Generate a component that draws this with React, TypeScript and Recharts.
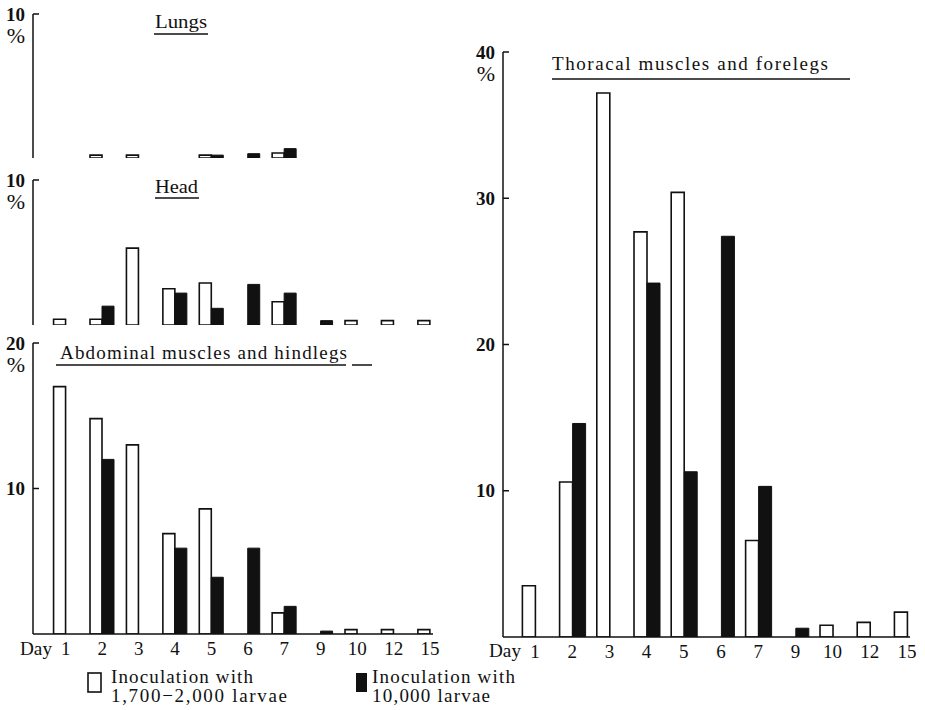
import React from 'react';
import { BarChart, Bar, XAxis, YAxis } from 'recharts';

const days = ['1', '2', '3', '4', '5', '6', '7', '9', '10', '12', '15'];

const lungsLow = [null, 0.2, 0.2, null, 0.2, null, 0.35, null, null, null, null];
const lungsHigh = [null, null, null, null, 0.2, 0.3, 0.65, null, null, null, null];

const headLow = [0.4, 0.4, 5.3, 2.5, 2.9, null, 1.6, null, 0.3, 0.3, 0.3];
const headHigh = [null, 1.3, null, 2.2, 1.15, 2.8, 2.2, 0.3, null, null, null];

const abdLow = [17.0, 14.8, 13.0, 6.9, 8.6, null, 1.45, null, 0.3, 0.3, 0.3];
const abdHigh = [null, 12.0, null, 5.9, 3.9, 5.9, 1.9, 0.2, null, null, null];

const thorLow = [3.5, 10.6, 37.2, 27.7, 30.4, null, 6.6, null, 0.8, 1.0, 1.7];
const thorHigh = [null, 14.6, null, 24.2, 11.3, 27.4, 10.3, 0.6, null, null, null];

const lungsTicks = [10];
const headTicks = [10];
const abdTicks = [10, 20];
const thorTicks = [10, 20, 30, 40];

const titles = {
  lungs: 'Lungs',
  head: 'Head',
  abd: 'Abdominal muscles and hindlegs',
  thor: 'Thoracal muscles and forelegs',
};
const legendLow = ['Inoculation with', '1,700\u22122,000 larvae'];
const legendHigh = ['Inoculation with', '10,000 larvae'];

const FONT = '"Liberation Serif", "DejaVu Serif", serif';
const INK = '#111';

const build = (low: (number | null)[], high: (number | null)[]) =>
  days.map((d, i) => ({ idx: i, day: d, low: low[i], high: high[i] }));

const idxTicks = days.map((_, i) => i);

function YTick(props: any) {
  const { x, y, payload, top } = props;
  const ax = x + 8;
  return (
    <g>
      <line x1={ax} x2={ax + 6} y1={y} y2={y} stroke={INK} strokeWidth={1.5} />
      <text x={x} y={y} dy="0.35em" textAnchor="end" fontSize={19} fontWeight="bold" fontFamily={FONT} fill={INK}>
        {payload.value}
      </text>
      {payload.value === top ? (
        <text x={x} y={y + 21} dy="0.35em" textAnchor="end" fontSize={22} fontFamily={FONT} fill={INK}>
          %
        </text>
      ) : null}
    </g>
  );
}

type PanelProps = {
  left: number;
  top: number;
  width: number;
  height: number;
  margin: { top: number; right: number; bottom: number; left: number };
  yWidth: number;
  data: any[];
  yMax: number;
  yTicks: number[];
  domain: [number, number];
  showX: boolean;
  barSize: number;
};

function Panel(p: PanelProps) {
  return (
    <div style={{ position: 'absolute', left: p.left, top: p.top }}>
      <BarChart width={p.width} height={p.height} data={p.data} margin={p.margin} barGap={0}>
        <XAxis
          type="number"
          dataKey="idx"
          domain={p.domain}
          ticks={idxTicks}
          interval={0}
          allowDataOverflow
          tickFormatter={(v: number) => days[v]}
          tickLine={false}
          axisLine={{ stroke: INK, strokeWidth: 1.5 }}
          tick={p.showX ? { fill: INK, fontSize: 19, fontFamily: FONT } : false}
          height={p.showX ? 30 : 0}
        />
        <YAxis
          type="number"
          domain={[0, p.yMax]}
          ticks={p.yTicks}
          allowDataOverflow
          width={p.yWidth}
          tickLine={false}
          axisLine={{ stroke: INK, strokeWidth: 1.5 }}
          tick={(tp: any) => <YTick {...tp} top={p.yMax} />}
        />
        <Bar dataKey="low" fill="#fff" stroke={INK} strokeWidth={1.6} barSize={p.barSize} isAnimationActive={false} />
        <Bar dataKey="high" fill={INK} stroke={INK} strokeWidth={1} barSize={p.barSize} isAnimationActive={false} />
      </BarChart>
    </div>
  );
}

export default function App() {
  const leftDomain: [number, number] = [-0.9, 10.08];
  const rightDomain: [number, number] = [-0.86, 10.08];
  return (
    <div style={{ position: 'absolute', left: 0, top: 0, width: 925, height: 710, background: '#fff', fontFamily: FONT }}>
      <Panel
        left={0}
        top={0}
        width={450}
        height={170}
        margin={{ top: 14, right: 17, bottom: 12, left: 0 }}
        yWidth={33}
        data={build(lungsLow, lungsHigh)}
        yMax={10}
        yTicks={lungsTicks}
        domain={leftDomain}
        showX={false}
        barSize={12}
      />
      <Panel
        left={0}
        top={165}
        width={450}
        height={170}
        margin={{ top: 15, right: 17, bottom: 10, left: 0 }}
        yWidth={33}
        data={build(headLow, headHigh)}
        yMax={10}
        yTicks={headTicks}
        domain={leftDomain}
        showX={false}
        barSize={12}
      />
      <Panel
        left={0}
        top={330}
        width={450}
        height={340}
        margin={{ top: 13, right: 17, bottom: 6, left: 0 }}
        yWidth={33}
        data={build(abdLow, abdHigh)}
        yMax={20}
        yTicks={abdTicks}
        domain={leftDomain}
        showX={true}
        barSize={12}
      />
      <Panel
        left={460}
        top={30}
        width={465}
        height={640}
        margin={{ top: 22, right: 15, bottom: 3, left: 0 }}
        yWidth={43}
        data={build(thorLow, thorHigh)}
        yMax={40}
        yTicks={thorTicks}
        domain={rightDomain}
        showX={true}
        barSize={13}
      />
      <svg
        width={925}
        height={710}
        style={{ position: 'absolute', left: 0, top: 0, pointerEvents: 'none' }}
        fontFamily={FONT}
        fill={INK}
      >
        <text x={155} y={28} fontSize={19} textLength={52} lengthAdjust="spacingAndGlyphs">{titles.lungs}</text>
        <line x1={154} x2={208} y1={34} y2={34} stroke={INK} strokeWidth={1.5} />
        <text x={155} y={193} fontSize={19} textLength={43} lengthAdjust="spacingAndGlyphs">{titles.head}</text>
        <line x1={155} x2={199} y1={198} y2={198} stroke={INK} strokeWidth={1.5} />
        <text x={60} y={359} fontSize={19} textLength={287} lengthAdjust="spacing">{titles.abd}</text>
        <line x1={56} x2={346} y1={365} y2={365} stroke={INK} strokeWidth={1.5} />
        <line x1={352} x2={372} y1={365} y2={365} stroke={INK} strokeWidth={1.5} />
        <text x={552} y={70} fontSize={19} textLength={276} lengthAdjust="spacing">{titles.thor}</text>
        <line x1={552} x2={850} y1={79} y2={79} stroke={INK} strokeWidth={1.5} />

        <text x={20} y={655} fontSize={19} textLength={32} lengthAdjust="spacingAndGlyphs">Day</text>
        <text x={489} y={657} fontSize={19} textLength={32} lengthAdjust="spacingAndGlyphs">Day</text>

        <rect x={88} y={673} width={13} height={19} fill="#fff" stroke={INK} strokeWidth={1.6} />
        <text x={111} y={683} fontSize={19} textLength={142} lengthAdjust="spacing">{legendLow[0]}</text>
        <text x={111} y={702} fontSize={19} textLength={176} lengthAdjust="spacing">{legendLow[1]}</text>
        <rect x={356} y={673} width={11} height={19} fill={INK} />
        <text x={372} y={683} fontSize={19} textLength={143} lengthAdjust="spacing">{legendHigh[0]}</text>
        <text x={372} y={702} fontSize={19} textLength={118} lengthAdjust="spacing">{legendHigh[1]}</text>
      </svg>
    </div>
  );
}
